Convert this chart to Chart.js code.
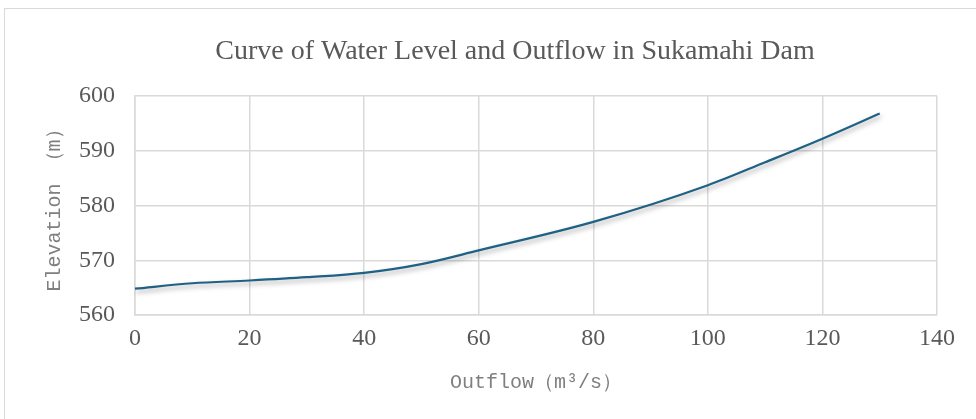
<!DOCTYPE html>
<html>
<head>
<meta charset="utf-8">
<script src="https://cdn.jsdelivr.net/npm/chart.js@4.4.1/dist/chart.umd.min.js"></script>
<style>
    html, body { margin: 0; padding: 0; background: #fff; overflow: hidden; }
    #frame { position: absolute; left: 4px; top: 8px; width: 1040px; height: 500px; border: 1px solid #d9d9d9; }
    #wrap { position: absolute; left: 0; top: 0; width: 976px; height: 419px; }
</style>
</head>
<body>
<div id="frame"></div>
<div id="wrap"><canvas id="curveChart"></canvas></div>
<script>
// Caudal (m3/s) y cota (m)
const outflow = [0, 10, 20, 30, 40, 50, 60, 80, 100, 110, 120, 130];
const elevation = [564.8, 565.8, 566.3, 566.9, 567.7, 569.3, 571.8, 577.0, 583.7, 587.9, 592.2, 596.8];
const xTicks = [0, 20, 40, 60, 80, 100, 120, 140];
const yTicks = [560, 570, 580, 590, 600];

const points = outflow.map((x, i) => ({ x: x, y: elevation[i] }));

// sombra suave bajo la linea
const lineShadow = {
    id: 'lineShadow',
    beforeDatasetsDraw(chart) {
        const ctx = chart.ctx;
        ctx.save();
        ctx.shadowColor = 'rgba(0, 0, 0, 0.35)';
        ctx.shadowBlur = 5;
        ctx.shadowOffsetX = 1;
        ctx.shadowOffsetY = 3;
    },
    afterDatasetsDraw(chart) {
        chart.ctx.restore();
    }
};

// el titulo del original esta centrado en el marco, no en el canvas
const titleShift = {
    id: 'titleShift',
    afterLayout(chart) {
        const t = chart.titleBlock;
        if (t) {
            t.left = 93;
            t.right = 937;
        }
    }
};

const ctx = document.getElementById('curveChart').getContext('2d');
new Chart(ctx, {
    type: 'scatter',
    data: {
        datasets: [{
            label: 'Curve',
            data: points,
            showLine: true,
            borderColor: '#1f6184',
            borderWidth: 2.2,
            pointRadius: 0,
            cubicInterpolationMode: 'monotone'
        }]
    },
    options: {
        responsive: true,
        maintainAspectRatio: false,
        animation: false,
        layout: { padding: { left: 0, right: 39, top: 0, bottom: 0 } },
        plugins: {
            legend: { display: false },
            tooltip: { enabled: false },
            title: {
                display: true,
                text: 'Curve of Water Level and Outflow in Sukamahi Dam',
                color: '#595959',
                font: { family: 'Liberation Serif', size: 28, weight: 'normal', lineHeight: 1.2 },
                padding: { top: 35.2, bottom: 27.2 }
            }
        },
        scales: {
            x: {
                type: 'linear',
                min: 0,
                max: 140,
                afterBuildTicks: scale => { scale.ticks = xTicks.map(v => ({ value: v })); },
                afterFit: scale => { scale.height = 104; },
                grid: { color: '#d9d9d9', lineWidth: 1.5, drawTicks: false },
                border: { color: '#d9d9d9', width: 1.5 },
                ticks: {
                    color: '#595959',
                    padding: 9,
                    font: { family: 'Liberation Serif', size: 24 }
                },
                title: {
                    display: true,
                    text: 'Outflow（m³/s）',
                    color: '#7f7f7f',
                    font: { family: 'Liberation Mono', size: 20 },
                    padding: { top: 0, bottom: 24 }
                }
            },
            y: {
                type: 'linear',
                min: 560,
                max: 600,
                afterBuildTicks: scale => { scale.ticks = yTicks.map(v => ({ value: v })); },
                afterFit: scale => { scale.width = 135; },
                grid: { color: '#d9d9d9', lineWidth: 1.5, drawTicks: false },
                border: { color: '#d9d9d9', width: 1.5 },
                ticks: {
                    color: '#595959',
                    padding: 20,
                    font: { family: 'Liberation Serif', size: 24 }
                },
                title: {
                    display: true,
                    text: 'Elevation （m）',
                    color: '#7f7f7f',
                    font: { family: 'Liberation Mono', size: 20 },
                    padding: { top: 43, bottom: 0 }
                }
            }
        }
    },
    plugins: [lineShadow, titleShift]
});
</script>
</body>
</html>
